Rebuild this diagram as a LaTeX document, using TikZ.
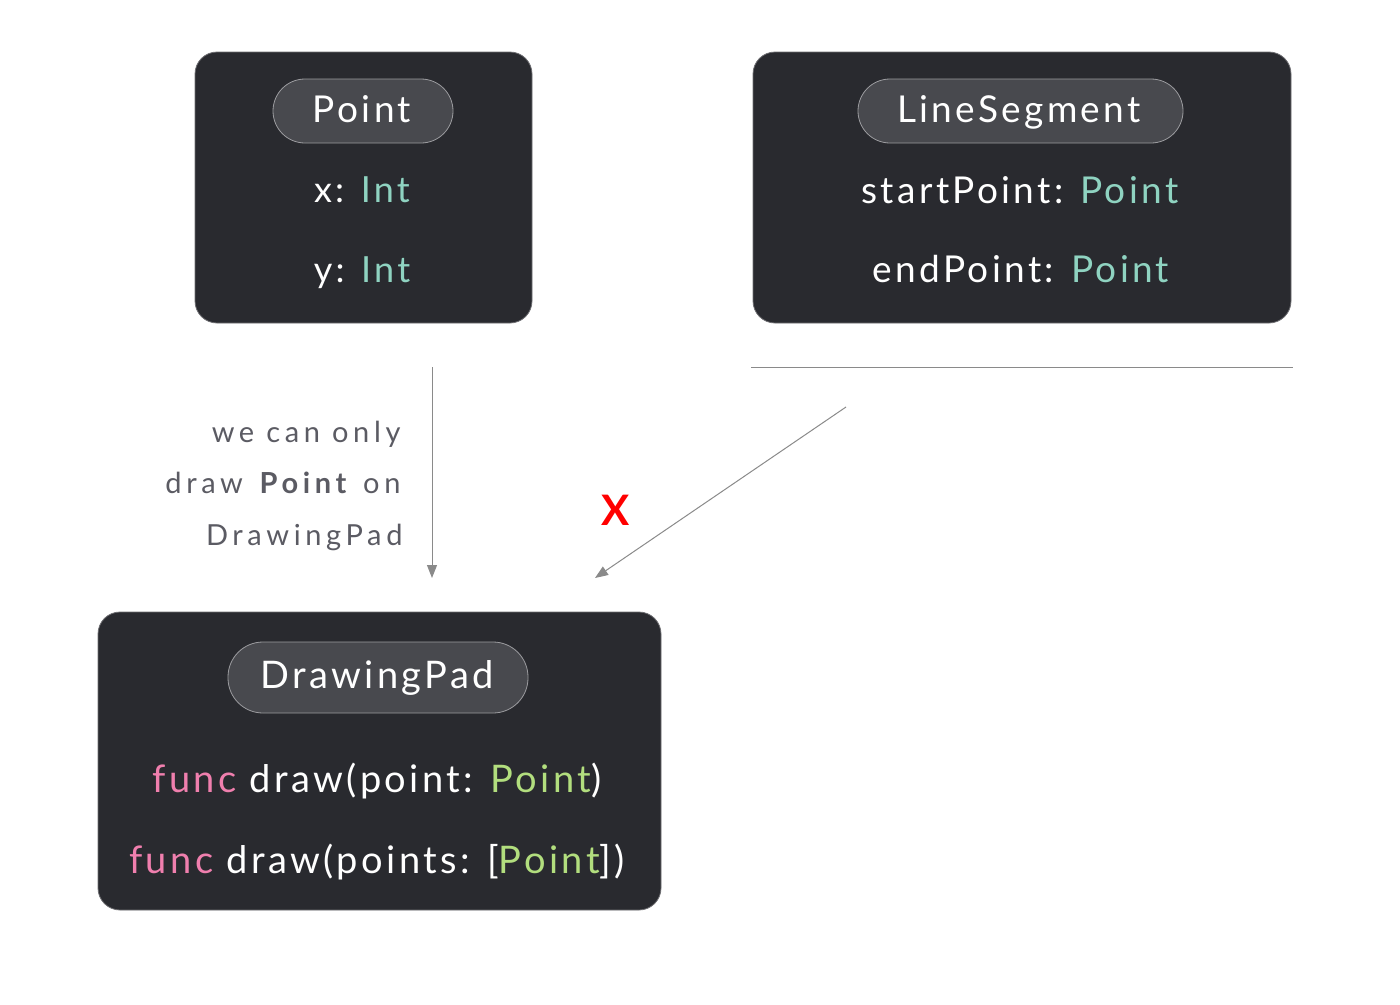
\documentclass[tikz,border=0pt]{standalone}
\usepackage{fontspec}
\setmainfont{Lato}[LetterSpace=9]
\usetikzlibrary{arrows.meta}

\definecolor{boxbg}{HTML}{292A2F}
\definecolor{boxline}{HTML}{6E6E72}
\definecolor{pillbg}{HTML}{48494E}
\definecolor{pillline}{HTML}{9C9CA0}
\definecolor{teal}{HTML}{8FD3C1}
\definecolor{lime}{HTML}{B2DE7E}
\definecolor{pink}{HTML}{F07FAE}
\definecolor{note}{HTML}{5B5B63}
\definecolor{arrowgray}{HTML}{8A8A8A}

\tikzset{
  typebox/.style={draw=boxline, fill=boxbg, line width=0.8pt, rounded corners=22pt, inner sep=0pt},
  pill/.style={draw=pillline, fill=pillbg, line width=0.8pt, rounded corners=#1, inner sep=0pt},
  row/.style={anchor=base, text=white, font=\fontsize{36}{40}\selectfont},
  notetext/.style={anchor=base east, text=note, font=\addfontfeatures{LetterSpace=16}\fontsize{29}{32}\selectfont},
  link/.style={draw=arrowgray, line width=1pt, -{Triangle[length=13pt,width=10pt]}}
}

\begin{document}
\begin{tikzpicture}[x=1pt,y=-1pt]
\useasboundingbox (0,0) rectangle (1400,1004);

% Point
\node [typebox, minimum width=337pt, minimum height=271pt] (pointbox) at (363.5,187.5) {};
\node [pill=32pt, minimum width=180pt, minimum height=64pt] (pointpill) at (363,111) {};
\node [row, font=\fontsize{37}{40}\selectfont] (pointname) at (362,122) {Point};
\node [row] (px) at (362,202) {x: \textcolor{teal}{Int}};
\node [row] (py) at (362,282) {y: \textcolor{teal}{Int}};

% LineSegment
\node [typebox, minimum width=538pt, minimum height=271pt] (segbox) at (1022,187.5) {};
\node [pill=32pt, minimum width=325pt, minimum height=64pt] (segpill) at (1020.5,111) {};
\node [row, font=\fontsize{37}{40}\selectfont] (segname) at (1019,122) {LineSegment};
\node [row, font=\fontsize{37}{40}\selectfont] (segstart) at (1020,203) {startPoint: \textcolor{teal}{Point}};
\node [row, font=\fontsize{37}{40}\selectfont] (segend) at (1021,282) {endPoint: \textcolor{teal}{Point}};

% DrawingPad
\node [typebox, minimum width=563pt, minimum height=298pt] (padbox) at (379.5,761) {};
\node [pill=35pt, minimum width=300pt, minimum height=71pt] (padpill) at (378,677.5) {};
\node [row, font=\fontsize{38}{40}\selectfont] (padname) at (377,688) {DrawingPad};
\node [row, font=\fontsize{38}{40}\selectfont] (padone) at (377,792) {\textcolor{pink}{func} draw(point: \textcolor{lime}{Point})};
\node [row, font=\fontsize{38}{40}\selectfont] (padmany) at (377,873) {\textcolor{pink}{func} draw(points: [\textcolor{lime}{Point}])};

% separator under LineSegment
\coordinate (sepl) at (751,367);
\coordinate (sepr) at (1293,367);
\draw [arrowgray, line width=1pt] (sepl) -- (sepr);

% arrows
\coordinate (okfrom) at (432,367);
\coordinate (okto) at (432,578);
\coordinate (nofrom) at (846,407);
\coordinate (noto) at (595,578);
\draw [link] (okfrom) -- (okto);
\draw [link] (nofrom) -- (noto);

\node [notetext] (note1) at (404,442) {we can only};
\node [notetext] (note2) at (404,493) {draw \textbf{Point} on};
\node [notetext] (note3) at (406,545) {DrawingPad};

\node [text=red, font=\bfseries\fontsize{42}{44}\selectfont] (nope) at (616,510) {X};

\end{tikzpicture}
\end{document}
